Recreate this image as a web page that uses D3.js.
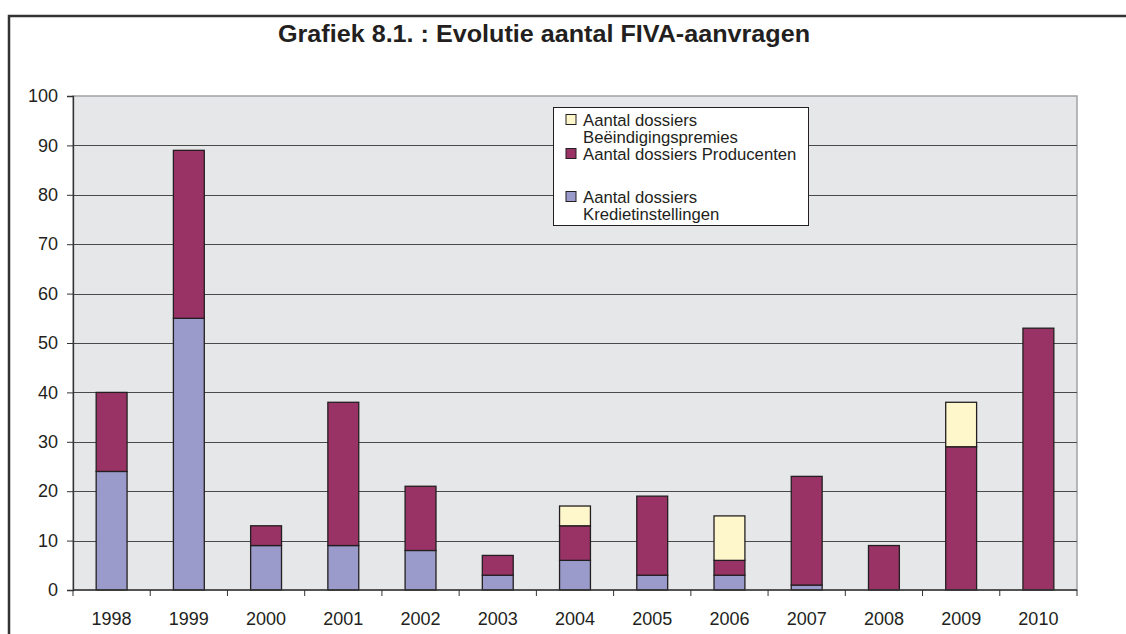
<!DOCTYPE html>
<html>
<head>
<meta charset="utf-8">
<script src="https://cdn.jsdelivr.net/npm/d3@7"></script>
<style>
  body { margin: 0; background: #fff; }
  svg { display: block; font-family: "Liberation Sans", Arial, sans-serif; }
</style>
</head>
<body>
<div id="chart"></div>
<script>
// data
const years = ["1998", "1999", "2000", "2001", "2002", "2003", "2004", "2005", "2006", "2007", "2008", "2009", "2010"];
const krediet = [24, 55, 9, 9, 8, 3, 6, 3, 3, 1, 0, 0, 0];
const producenten = [16, 34, 4, 29, 13, 4, 7, 16, 3, 22, 9, 29, 53];
const beeindiging = [0, 0, 0, 0, 0, 0, 4, 0, 9, 0, 0, 9, 0];
const yTicks = [0, 10, 20, 30, 40, 50, 60, 70, 80, 90, 100];

const seriesKeys = ["krediet", "producenten", "beeindiging"];
const colors = { krediet: "#9b9bcb", producenten: "#993366", beeindiging: "#fff7cc" };
// legend top to bottom, lines per entry
const legendItems = [
  { key: "beeindiging", lines: ["Aantal dossiers", "Beëindigingspremies"], y: 126 },
  { key: "producenten", lines: ["Aantal dossiers Producenten"], y: 160 },
  { key: "krediet", lines: ["Aantal dossiers", "Kredietinstellingen"], y: 203 }
];

const width = 1126, height = 634;
const plot = { left: 73, right: 1077, top: 96, bottom: 590 };

const table = years.map((y, i) => ({
  year: y, krediet: krediet[i], producenten: producenten[i], beeindiging: beeindiging[i]
}));

const svg = d3.select("#chart").append("svg")
  .attr("width", width)
  .attr("height", height);

// outer frame (only top and left are visible)
svg.append("path")
  .attr("d", `M9,${height + 5} V16 H${width + 5}`)
  .attr("fill", "none")
  .attr("stroke", "#333")
  .attr("stroke-width", 2.5);

svg.append("text")
  .attr("x", 544)
  .attr("y", 42)
  .attr("text-anchor", "middle")
  .attr("font-size", 23)
  .attr("font-weight", "bold")
  .attr("fill", "#231f20")
  .attr("textLength", 532)
  .attr("lengthAdjust", "spacingAndGlyphs")
  .text("Grafiek 8.1. : Evolutie aantal FIVA-aanvragen");

const x = d3.scaleBand()
  .domain(years)
  .range([plot.left, plot.right])
  .paddingInner(0.6)
  .paddingOuter(0.3);

const y = d3.scaleLinear()
  .domain([0, 100])
  .range([plot.bottom, plot.top]);

// plot background
svg.append("rect")
  .attr("x", plot.left)
  .attr("y", plot.top)
  .attr("width", plot.right - plot.left)
  .attr("height", plot.bottom - plot.top)
  .attr("fill", "#e6e7e9")
  .attr("stroke", "#a0a2a5")
  .attr("stroke-width", 1.5);

// gridlines
svg.append("g")
  .selectAll("line")
  .data(yTicks.filter(d => d > 0 && d < 100))
  .join("line")
  .attr("x1", plot.left)
  .attr("x2", plot.right)
  .attr("y1", d => Math.round(y(d)) + 0.5)
  .attr("y2", d => Math.round(y(d)) + 0.5)
  .attr("stroke", "#4a4a4a")
  .attr("stroke-width", 1.2);

// stacked bars
const stacked = d3.stack().keys(seriesKeys)(table);

svg.append("g")
  .selectAll("g")
  .data(stacked)
  .join("g")
  .attr("fill", d => colors[d.key])
  .selectAll("rect")
  .data(d => d.filter(s => s[1] - s[0] > 0))
  .join("rect")
  .attr("x", d => x(d.data.year))
  .attr("y", d => y(d[1]))
  .attr("width", x.bandwidth())
  .attr("height", d => y(d[0]) - y(d[1]))
  .attr("stroke", "#231f20")
  .attr("stroke-width", 1.3);

// y axis
const yAxis = svg.append("g")
  .attr("transform", `translate(${plot.left},0)`)
  .call(d3.axisLeft(y).tickValues(yTicks).tickSize(6).tickPadding(9));
yAxis.select(".domain").attr("stroke", "#333").attr("stroke-width", 1.3);
yAxis.selectAll(".tick line").attr("stroke", "#333");
yAxis.selectAll("text")
  .attr("font-size", 18)
  .attr("font-family", "Liberation Sans, Arial, sans-serif")
  .attr("fill", "#231f20");

// x axis: ticks sit between the categories
const xAxis = svg.append("g")
  .attr("transform", `translate(0,${plot.bottom})`);
xAxis.append("line")
  .attr("x1", plot.left)
  .attr("x2", plot.right)
  .attr("stroke", "#333")
  .attr("stroke-width", 1.3);
const step = x.step();
xAxis.selectAll(".xtick")
  .data(years.concat(["end"]))
  .join("line")
  .attr("class", "xtick")
  .attr("x1", (d, i) => plot.left + i * step)
  .attr("x2", (d, i) => plot.left + i * step)
  .attr("y1", 0)
  .attr("y2", 6)
  .attr("stroke", "#333");
xAxis.selectAll(".xlabel")
  .data(years)
  .join("text")
  .attr("class", "xlabel")
  .attr("x", d => x(d) + x.bandwidth() / 2)
  .attr("y", 35)
  .attr("text-anchor", "middle")
  .attr("font-size", 18)
  .attr("fill", "#231f20")
  .text(d => d);

// legend
const legend = svg.append("g");
legend.append("rect")
  .attr("x", 553.5)
  .attr("y", 107.5)
  .attr("width", 255)
  .attr("height", 118)
  .attr("fill", "#fff")
  .attr("stroke", "#231f20")
  .attr("stroke-width", 1);

const items = legend.selectAll(".item")
  .data(legendItems)
  .join("g")
  .attr("class", "item");
items.append("rect")
  .attr("x", 566)
  .attr("y", d => d.y - 11.5)
  .attr("width", 10)
  .attr("height", 10)
  .attr("fill", d => colors[d.key])
  .attr("stroke", "#231f20")
  .attr("stroke-width", 1);
items.append("text")
  .attr("x", 583)
  .attr("y", d => d.y)
  .attr("font-size", 16.7)
  .attr("fill", "#231f20")
  .selectAll("tspan")
  .data(d => d.lines)
  .join("tspan")
  .attr("x", 583)
  .attr("dy", (d, i) => i === 0 ? 0 : 17)
  .text(d => d);
</script>
</body>
</html>
